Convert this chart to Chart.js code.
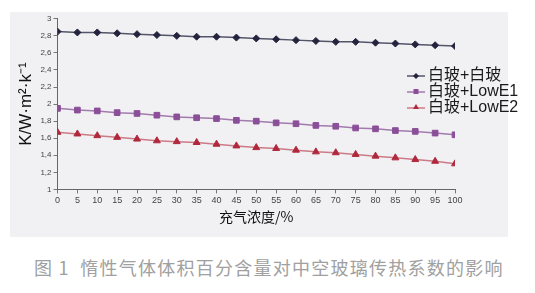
<!DOCTYPE html>
<html><head><meta charset="utf-8">
<script src="https://cdn.jsdelivr.net/npm/chart.js@4/dist/chart.umd.min.js"></script>
<style>
body{margin:0;background:#fff;width:535px;height:293px;overflow:hidden;font-family:"Noto Sans CJK SC","Liberation Sans",sans-serif;}
#panel{position:absolute;left:10px;top:12px;width:498px;height:225px;background:#f1f1f3;}
#wrap{position:absolute;left:0;top:0;width:498px;height:225px;}
#legend{position:absolute;left:395px;top:55px;font-size:16px;color:#1a1a1a;line-height:16px;white-space:nowrap;font-family:"Liberation Sans","Noto Sans CJK SC",sans-serif;}
#legend div{display:flex;align-items:center;height:16px;white-space:nowrap;}
#legend canvas{margin-right:1px;}
#caption{position:absolute;left:34px;top:254px;font-size:18px;color:#a0a0a0;letter-spacing:1.25px;white-space:nowrap;}
</style></head><body>
<div id="panel"><div id="wrap"><canvas id="c" width="498" height="225"></canvas></div>
<div id="legend"></div></div>
<div id="caption">图 1&nbsp;&nbsp;惰性气体体积百分含量对中空玻璃传热系数的影响</div>
<script>
const categories=[0,5,10,15,20,25,30,35,40,45,50,55,60,65,70,75,80,85,90,95,100];
const seriesNames=["白玻+白玻","白玻+LowE1","白玻+LowE2"];
const clearClear=[2.85,2.84,2.84,2.83,2.82,2.81,2.80,2.79,2.79,2.78,2.77,2.76,2.75,2.74,2.73,2.73,2.72,2.71,2.70,2.69,2.68];
const clearLowE1=[1.95,1.93,1.92,1.90,1.89,1.87,1.85,1.84,1.83,1.81,1.80,1.78,1.77,1.75,1.74,1.72,1.71,1.69,1.68,1.66,1.64];
const clearLowE2=[1.67,1.65,1.63,1.61,1.59,1.57,1.56,1.55,1.53,1.51,1.49,1.48,1.46,1.44,1.43,1.41,1.39,1.37,1.35,1.33,1.30];
const yTicks=[1,1.2,1.4,1.6,1.8,2,2.2,2.4,2.6,2.8,3];
const xTitle="充气浓度/%";
const yTitle="K/W·m²·k⁻¹";

const styles=[
 {line:'#55556a',pt:'#23233d',shape:'rectRot',r:3.5},
 {line:'#a27aad',pt:'#8a4f98',shape:'rect',r:4},
 {line:'#cc7a86',pt:'#b0283c',shape:'triangle',r:4}
];
const vals=[clearClear,clearLowE1,clearLowE2];
const datasets=vals.map((v,i)=>({
 label:seriesNames[i],
 data:v.map((y,j)=>({x:categories[j],y:y})),
 borderColor:styles[i].line,borderWidth:1.5,
 pointStyle:styles[i].shape,pointRadius:styles[i].r,
 pointBackgroundColor:styles[i].pt,pointBorderColor:styles[i].pt,pointBorderWidth:1,
 tension:0
}));
new Chart(document.getElementById('c'),{
 type:'line',data:{datasets},
 options:{responsive:false,animation:false,
  layout:{padding:{left:2,right:53,top:4,bottom:8}},
  plugins:{legend:{display:false},tooltip:{enabled:false}},
  scales:{
   x:{type:'linear',min:0,max:100,
     afterBuildTicks:a=>{a.ticks=categories.map(v=>({value:v}));},
     grid:{display:true,drawOnChartArea:false,tickLength:4,color:'#777'},
     border:{color:'#666'},
     ticks:{color:'#444',font:{size:9,family:'Liberation Sans'},padding:2,maxRotation:0,autoSkip:false},
     title:{display:true,text:xTitle,color:'#111',font:{size:14,family:'Noto Sans CJK SC'},padding:{top:0}}},
   y:{min:1,max:3,
     afterBuildTicks:a=>{a.ticks=yTicks.map(v=>({value:v}));},
     grid:{display:true,drawOnChartArea:false,tickLength:4,color:'#777'},
     border:{color:'#666'},
     ticks:{color:'#444',font:{size:8,family:'Liberation Sans'},padding:2,
       callback:v=>String(Math.round(v*10)/10).replace('.',',')},
     title:{display:true,text:yTitle,color:'#111',font:{size:17,family:'Liberation Sans'},padding:{bottom:2}}}
  }}
});
const lg=document.getElementById('legend');
seriesNames.forEach((n,i)=>{
 const d=document.createElement('div');
 const cv=document.createElement('canvas');cv.width=22;cv.height=12;
 const g=cv.getContext('2d');
 g.strokeStyle=styles[i].line;g.lineWidth=1.5;g.beginPath();g.moveTo(2,7);g.lineTo(20,7);g.stroke();
 g.fillStyle=styles[i].pt;g.beginPath();
 if(i===0){g.moveTo(11,4);g.lineTo(14,7);g.lineTo(11,10);g.lineTo(8,7);}
 else if(i===1){g.rect(8.5,4,5,5);}
 else{g.moveTo(11,3);g.lineTo(14,8);g.lineTo(8,8);}
 g.fill();
 const s=document.createElement('span');s.textContent=n;
 d.appendChild(cv);d.appendChild(s);lg.appendChild(d);
});
</script></body></html>
